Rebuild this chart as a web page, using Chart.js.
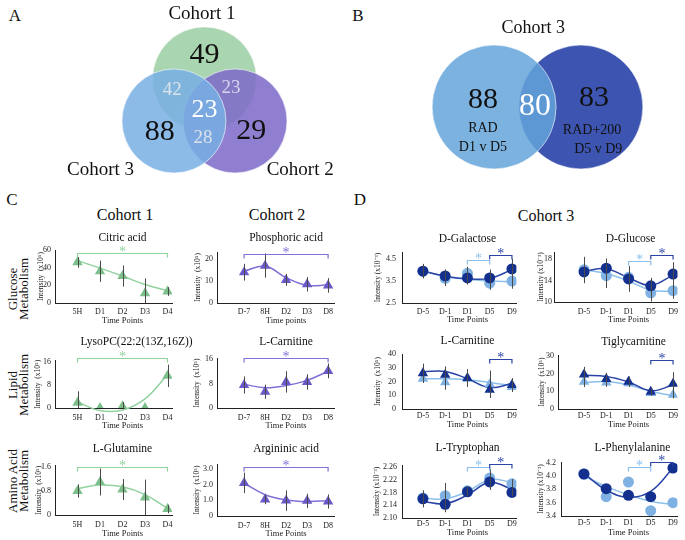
<!DOCTYPE html>
<html>
<head>
<meta charset="utf-8">
<script src="https://cdn.jsdelivr.net/npm/chart.js@4.4.1/dist/chart.umd.min.js"></script>
<style>
  body { margin: 0; background: #fff; }
  #fig { position: relative; width: 685px; height: 540px; overflow: hidden; font-family: 'Liberation Serif', serif; color: #111; }
  #fig canvas { position: absolute; }
  .lbl { position: absolute; white-space: nowrap; transform: translate(-50%, -50%); line-height: 1; }
  .rot { transform: translate(-50%, -50%) rotate(-90deg); text-align: center; line-height: 11px; }
</style>
</head>
<body>
<div id="fig"></div>
<script>
// ---- data ----
const c1Labels = ['5H', 'D1', 'D2', 'D3', 'D4'];
const c2Labels = ['D-7', '8H', 'D2', 'D3', 'D8'];
const c3Labels = ['D-5', 'D-1', 'D1', 'D5', 'D9'];

// Venn counts: only1, only3, only2, 1&3, 1&2, 2&3, all
const vennACounts = [49, 88, 29, 42, 23, 28, 23];
// RAD only, shared, RAD+200 only
const vennBCounts = [88, 80, 83];

const citricTicks = ['0', '20', '40', '60'];
const citricMean = [46, 36, 30.5, 11, 13];
const citricErr = [6, 12, 12, 17, 5];
const citricTrend = [48, 39.5, 30.5, 21, 14];

const phosTicks = ['0', '10', '20'];
const phosMean = [14, 17, 10.5, 8.5, 8];
const phosErr = [3.8, 5.5, 2.7, 3.3, 3.3];
const phosTrend = [14.5, 16.8, 11.5, 8.0, 8.3];

const lysoTicks = ['0', '4', '8', '12', '16'];
const lysoMean = [1.8, 0, 0.6, 0, 11.2];
const lysoErr = [4, 0, 1.5, 0, 3.9];
const lysoTrend = [2.1, -0.9, -0.7, 3.2, 11.6];

const carC2Ticks = ['0', '4', '8', '12', '16'];
const carC2Mean = [7.5, 5.3, 8.5, 8.5, 12.1];
const carC2Err = [2.8, 2.3, 3.5, 2.5, 2.4];
const carC2Trend = [7.7, 6.6, 7.3, 9.0, 12.0];

const glnTicks = ['0', '0.4', '0.8', '1.2', '1.6'];
const glnMean = [0.8, 1.1, 0.85, 0.58, 0.2];
const glnErr = [0.22, 0.45, 0.35, 0.6, 0.14];
const glnTrend = [0.88, 1.0, 0.94, 0.68, 0.22];

const argTicks = ['0', '1.0', '2.0', '3.0'];
const argMean = [2.1, 1.05, 0.98, 0.96, 0.92];
const argErr = [0.65, 0.3, 0.65, 0.45, 0.45];
const argTrend = [2.08, 1.35, 1.02, 0.92, 0.97];

const galTicks = ['2.5', '3.5', '4.5'];
const galDark = [3.95, 3.73, 3.64, 3.64, 4.05];
const galDarkErr = [0.33, 0.3, 0.3, 0.38, 0.45];
const galLight = [3.95, 3.62, 3.85, 3.4, 3.5];
const galLightErr = [0.3, 0.35, 0.3, 0.3, 0.35];
const galDarkTrend = [3.95, 3.72, 3.6, 3.62, 4.02];
const galLightTrend = [3.95, 3.7, 3.58, 3.5, 3.47];

const gluTicks = ['10', '14', '18'];
const gluDark = [15.6, 16.3, 14.3, 13.0, 15.2];
const gluDarkErr = [2.1, 1.8, 2.4, 1.5, 2.2];
const gluLight = [16.0, 14.9, 14.6, 11.7, 12.1];
const gluLightErr = [2.4, 2.3, 1.6, 1.6, 1.5];
const gluDarkTrend = [15.7, 16.2, 14.5, 13.1, 15.0];
const gluLightTrend = [16.0, 15.3, 13.9, 12.2, 12.0];

const carTicks = ['0', '10', '20', '30', '40'];
const carDark = [26, 25, 22.5, 14, 17.5];
const carDarkErr = [7, 6, 6.5, 6, 5];
const carLight = [22, 19.5, 22, 18, 16];
const carLightErr = [3, 5.5, 4, 10, 3.5];
const carDarkTrend = [27, 27.3, 22, 15.5, 18.5];
const carLightTrend = [22, 22, 21.3, 19.3, 17];

const tigTicks = ['0', '10', '20', '30'];
const tigDark = [19.5, 17, 15.4, 9.7, 14.3];
const tigDarkErr = [4.3, 3.4, 3, 2, 6.5];
const tigLight = [15.4, 15, 14.5, 9, 8];
const tigLightErr = [3, 2.5, 2, 1.5, 2];
const tigDarkTrend = [19, 18.4, 15.3, 10.3, 13.5];
const tigLightTrend = [15, 15.5, 13.5, 10, 7.5];

const trpTicks = ['2.10', '2.14', '2.18', '2.22', '2.26'];
const trpDark = [2.16, 2.143, 2.182, 2.213, 2.18];
const trpDarkErr = [0.027, 0.025, 0.015, 0.025, 0.012];
const trpLight = [2.163, 2.17, 2.185, 2.225, 2.207];
const trpLightErr = [0.015, 0.04, 0.015, 0.028, 0.015];
const trpDarkTrend = [2.152, 2.145, 2.172, 2.212, 2.19];
const trpLightTrend = [2.163, 2.16, 2.183, 2.22, 2.212];

const pheTicks = ['3.4', '3.6', '3.8', '4.0', '4.2'];
const pheDark = [4.03, 3.81, 3.71, 3.69, 4.12];
const pheLight = [4.03, 3.69, 3.91, 3.48, 3.6];
const pheDarkTrend = [4.04, 3.79, 3.68, 3.77, 4.12];
const pheLightTrend = [4.0, 3.84, 3.72, 3.62, 3.57];

// ---- styles ----
const serif = "'Liberation Serif', 'Times New Roman', serif";
Chart.defaults.font.family = serif;
Chart.defaults.color = '#222';

const green = { marker: '#7cbf8b', line: '#92d29e', style: 'triangle' };
const purple = { marker: '#6b59c9', line: '#7f70d8', style: 'triangle' };
const navy = { marker: '#14308f', line: '#2a44a6' };
const sky = { marker: '#7fb2e2', line: '#8cc0ea' };

const fig = document.getElementById('fig');

function addCanvas(x, y, w, h) {
  const c = document.createElement('canvas');
  c.width = w; c.height = h;
  c.style.left = x + 'px'; c.style.top = y + 'px';
  c.style.width = w + 'px'; c.style.height = h + 'px';
  fig.appendChild(c);
  return c;
}

function addText(t, x, y, size, rot) {
  const d = document.createElement('div');
  d.className = rot ? 'lbl rot' : 'lbl';
  d.innerHTML = t;
  d.style.left = x + 'px'; d.style.top = y + 'px';
  d.style.fontSize = size + 'px';
  fig.appendChild(d);
}

[
  ['A', 15, 15, 17], ['B', 358, 15, 17], ['C', 12, 199, 17], ['D', 360, 199, 17],
  ['Cohort 1', 125, 215, 16], ['Cohort 2', 277, 215, 16], ['Cohort 3', 546, 216, 16]
].forEach(h => addText(h[0], h[1], h[2], h[3], false));
addText('Glucose<br>Metabolism', 18, 289, 13, true);
addText('Lipid<br>Metabolism', 18, 385, 13, true);
addText('Amino Acid<br>Metabolism', 18, 481, 13, true);

// ---- venn diagrams ----
function vennChart(v) {
  const cv = addCanvas(v.left, v.top, v.w, v.h);
  new Chart(cv, {
    type: 'scatter',
    data: {
      datasets: [{
        data: v.circles.map(c => ({ x: c.x, y: c.y })),
        pointBackgroundColor: v.circles.map(c => c.fill),
        pointBorderColor: 'rgba(255,255,255,0.6)',
        pointBorderWidth: 1,
        pointRadius: ctx => {
          const s = ctx.chart.scales.x;
          return s.getPixelForValue(1) - s.getPixelForValue(0);
        }
      }]
    },
    options: {
      responsive: false, animation: false, events: [],
      layout: { padding: 0 },
      plugins: { legend: { display: false }, tooltip: { enabled: false } },
      scales: {
        x: { display: false, min: -v.cx / v.unit, max: (v.w - v.cx) / v.unit },
        y: { display: false, min: -(v.h - v.cy) / v.unit, max: v.cy / v.unit }
      }
    },
    plugins: [{
      id: 'vennText',
      afterDatasetsDraw(chart) {
        const { ctx, scales: { x, y } } = chart;
        ctx.save();
        ctx.textAlign = 'center'; ctx.textBaseline = 'middle';
        v.texts.forEach(s => {
          ctx.fillStyle = s.color || '#111';
          ctx.font = `${s.size}px ${serif}`;
          ctx.fillText(s.t, x.getPixelForValue(s.x), y.getPixelForValue(s.y));
        });
        ctx.restore();
      }
    }]
  });
}

vennChart({
  left: 0, top: 0, w: 340, h: 190, cx: 204.5, cy: 121, unit: 52,
  circles: [
    { x: 0, y: 0.81, fill: '#a9d5b0' },
    { x: 0.587, y: 0, fill: 'rgba(124,104,200,0.85)' },
    { x: -0.587, y: 0, fill: 'rgba(120,175,228,0.85)' }
  ],
  texts: [
    { t: 'Cohort 1', x: -0.05, y: 2.06, size: 19 },
    { t: 'Cohort 3', x: -2.0, y: -0.94, size: 19 },
    { t: 'Cohort 2', x: 1.84, y: -0.94, size: 19 },
    { t: String(vennACounts[0]), x: 0, y: 1.27, size: 30 },
    { t: String(vennACounts[1]), x: -0.86, y: -0.21, size: 30 },
    { t: String(vennACounts[2]), x: 0.9, y: -0.19, size: 30 },
    { t: String(vennACounts[3]), x: -0.62, y: 0.6, size: 19, color: '#dbe2ea' },
    { t: String(vennACounts[4]), x: 0.51, y: 0.63, size: 19, color: '#d8d4ee' },
    { t: String(vennACounts[5]), x: -0.03, y: -0.33, size: 19, color: '#dbe2ea' },
    { t: String(vennACounts[6]), x: 0, y: 0.21, size: 26, color: '#ffffff' }
  ]
});

vennChart({
  left: 340, top: 0, w: 345, h: 190, cx: 197.5, cy: 107, unit: 62,
  circles: [
    { x: 0.7, y: 0, fill: '#3d55b0' },
    { x: -0.7, y: 0, fill: 'rgba(100,165,218,0.85)' }
  ],
  texts: [
    { t: 'Cohort 3', x: -0.07, y: 1.27, size: 18 },
    { t: String(vennBCounts[0]), x: -0.88, y: 0.11, size: 30 },
    { t: 'RAD', x: -0.88, y: -0.34, size: 14 },
    { t: 'D1 v D5', x: -0.88, y: -0.65, size: 14 },
    { t: String(vennBCounts[1]), x: -0.04, y: 0, size: 32, color: '#ffffff' },
    { t: String(vennBCounts[2]), x: 0.91, y: 0.15, size: 30 },
    { t: 'RAD+200', x: 0.88, y: -0.37, size: 14 },
    { t: 'D5 v D9', x: 0.98, y: -0.69, size: 14 }
  ]
});

// ---- line panels ----
function lineChart(p) {
  const [l, t, r, b] = p.rect;
  const yW = 25, xH = 14;
  // whole-pixel canvas so nothing is resampled; padding absorbs the fractions
  const cl = Math.floor(l - 45), ct = Math.floor(t - 34);
  const cw = Math.ceil(r + 40 - cl), ch = Math.ceil(b + 34 - ct);
  const pad = { left: l - cl - yW, top: t - ct, right: cw - (r - cl), bottom: ch - (b - ct) - xH };
  const cv = addCanvas(cl, ct, cw, ch);
  const datasets = [];
  p.series.forEach(s => datasets.push({
    data: s.mean.map((v, i) => ({ x: i + 1, y: v })),
    showLine: false,
    pointStyle: s.style || 'circle',
    pointRadius: s.style === 'triangle' ? 6 : 5.5,
    pointBackgroundColor: s.marker, pointBorderColor: s.marker, pointBorderWidth: 0,
    order: 0
  }));
  p.series.forEach(s => datasets.push({
    data: s.trend.map((v, i) => ({ x: i + 1, y: v })),
    showLine: true, pointRadius: 0, borderColor: s.line, borderWidth: 1.5,
    tension: 0.4, clip: false, order: 1
  }));

  new Chart(cv, {
    type: 'scatter',
    data: { datasets },
    options: {
      responsive: false, animation: false, events: [],
      layout: { padding: pad },
      plugins: { legend: { display: false }, tooltip: { enabled: false } },
      scales: {
        x: {
          type: 'linear', min: p.xMin, max: p.xMax,
          grid: { display: false, drawTicks: false },
          border: { color: '#222', width: 1 },
          ticks: { font: { size: 8 }, color: '#222', padding: p.xPad ?? 3, maxRotation: 0, autoSkip: false,
                   callback: (v, i) => p.labels[i] },
          afterBuildTicks: s => { s.ticks = p.labels.map((_, i) => ({ value: i + 1 })); },
          afterFit: s => { s.height = xH; }
        },
        y: {
          min: p.yMin, max: p.yMax,
          grid: { display: false, drawTicks: false },
          border: { color: '#222', width: 1 },
          ticks: { font: { size: 8 }, color: '#222', padding: p.yPad ?? 4,
                   callback: (v, i) => p.yTicks[i] },
          afterBuildTicks: s => { s.ticks = p.yTicks.map(v => ({ value: +v })); },
          afterFit: s => { s.width = yW; }
        }
      }
    },
    plugins: [{
      id: 'deco',
      afterDatasetsDraw(chart) {
        const { ctx, chartArea: a, scales: { x, y } } = chart;
        ctx.save();
        // error bars
        ctx.lineWidth = 1; ctx.strokeStyle = '#4a4a4a';
        p.series.forEach(s => {
          if (!s.err) return;
          s.mean.forEach((m, i) => {
            if (!s.err[i]) return;
            const px = Math.round(x.getPixelForValue(i + 1)) + 0.5;
            const y1 = Math.min(y.getPixelForValue(m - s.err[i]), a.bottom);
            const y2 = y.getPixelForValue(m + s.err[i]);
            ctx.beginPath(); ctx.moveTo(px, y1); ctx.lineTo(px, y2); ctx.stroke();
          });
        });
        // significance brackets
        ctx.textAlign = 'center'; ctx.textBaseline = 'middle';
        (p.brackets || []).forEach(k => {
          const x1 = x.getPixelForValue(k.from), x2 = x.getPixelForValue(k.to);
          const yy = Math.round(y.getPixelForValue(k.y)) + 0.5;
          ctx.strokeStyle = k.color; ctx.lineWidth = 1.2;
          ctx.beginPath();
          ctx.moveTo(x1, yy + 4); ctx.lineTo(x1, yy); ctx.lineTo(x2, yy); ctx.lineTo(x2, yy + 4);
          ctx.stroke();
          ctx.fillStyle = k.color; ctx.font = `14px ${serif}`;
          ctx.fillText('*', (x1 + x2) / 2, yy - 1);
        });
        // titles
        ctx.fillStyle = '#111';
        ctx.font = `11.5px ${serif}`;
        ctx.fillText(p.title, x.getPixelForValue(3) + (p.titleDx || 0), a.top + p.titleY - t);
        ctx.font = `8.5px ${serif}`;
        ctx.fillStyle = '#222';
        ctx.fillText(p.xTitle || 'Time Points', x.getPixelForValue(3), a.bottom + p.xTitleDy);
        ctx.translate(a.left + p.yTitleDx, (a.top + a.bottom) / 2);
        ctx.rotate(-Math.PI / 2);
        ctx.font = `7.5px ${serif}`;
        ctx.fillText(p.yTitle, 0, 0);
        ctx.restore();
      }
    }]
  });
}

const yC = 'Intensity  (x10\u2075)';
const yD = 'Intensity (x10\u207B\u00B3)';

const panels = [
  // Cohort 1
  { rect: [55, 250, 172, 303], xMin: 0, xMax: 5.2, yMin: 0, yMax: 60, yTicks: citricTicks, labels: c1Labels,
    title: 'Citric acid', titleY: 238, yTitle: yC, yTitleDx: -14, xTitleDy: 18, xPad: 4,
    series: [{ mean: citricMean, err: citricErr, trend: citricTrend, ...green }],
    brackets: [{ from: 1, to: 5, y: 56.6, color: green.line }] },
  { rect: [55, 360.6, 172, 408], xMin: 0, xMax: 5.2, yMin: 0, yMax: 16.5, yTicks: lysoTicks, labels: c1Labels,
    title: 'LysoPC(22:2(13Z,16Z))', titleY: 342, titleDx: 14, yTitle: yC, yTitleDx: -17, xTitleDy: 18, xPad: 5,
    series: [{ mean: lysoMean, err: lysoErr, trend: lysoTrend, ...green }],
    brackets: [{ from: 1, to: 5, y: 17.3, color: green.line }] },
  { rect: [55, 465.5, 172, 515], xMin: 0, xMax: 5.2, yMin: 0, yMax: 1.65, yTicks: glnTicks, labels: c1Labels,
    title: 'L-Glutamine', titleY: 449, yTitle: yC, yTitleDx: -16, xTitleDy: 19, xPad: 5,
    series: [{ mean: glnMean, err: glnErr, trend: glnTrend, ...green }],
    brackets: [{ from: 1, to: 5, y: 1.61, color: green.line }] },
  // Cohort 2
  { rect: [217, 252, 334.4, 303], xMin: -0.29, xMax: 5.3, yMin: 0, yMax: 23.2, yTicks: phosTicks, labels: c2Labels,
    title: 'Phosphoric acid', titleY: 238, yTitle: yC, yTitleDx: -19, xTitle: 'Time points', xTitleDy: 18, xPad: 4,
    series: [{ mean: phosMean, err: phosErr, trend: phosTrend, ...purple }],
    brackets: [{ from: 1, to: 5, y: 22.3, color: purple.line }] },
  { rect: [217, 358, 334.4, 408], xMin: -0.29, xMax: 5.3, yMin: 0, yMax: 16.3, yTicks: carC2Ticks, labels: c2Labels,
    title: 'L-Carnitine', titleY: 342, yTitle: yC, yTitleDx: -20, xTitleDy: 18, xPad: 5,
    series: [{ mean: carC2Mean, err: carC2Err, trend: carC2Trend, ...purple }],
    brackets: [{ from: 1, to: 5, y: 16.4, color: purple.line }] },
  { rect: [217, 464, 334.4, 516], xMin: -0.29, xMax: 5.3, yMin: 0, yMax: 3.3, yTicks: argTicks, labels: c2Labels,
    title: 'Argininic acid', titleY: 449, yTitle: yC, yTitleDx: -20, xTitleDy: 18, xPad: 5,
    series: [{ mean: argMean, err: argErr, trend: argTrend, ...purple }],
    brackets: [{ from: 1, to: 5, y: 3.11, color: purple.line }] },
  // Cohort 3
  { rect: [402, 252, 516.4, 303], xMin: 0.06, xMax: 5.2, yMin: 2.5, yMax: 4.82, yTicks: galTicks, labels: c3Labels,
    title: 'D-Galactose', titleY: 239, yTitle: yD, yTitleDx: -24, xTitleDy: 17, xPad: 4, yPad: 6,
    series: [{ mean: galDark, err: galDarkErr, trend: galDarkTrend, ...navy },
             { mean: galLight, err: galLightErr, trend: galLightTrend, ...sky }],
    brackets: [{ from: 3, to: 4, y: 4.45, color: sky.line }, { from: 4, to: 5, y: 4.68, color: navy.line }] },
  { rect: [402, 354, 516.4, 409], xMin: 0.06, xMax: 5.2, yMin: 0, yMax: 40, yTicks: carTicks, labels: c3Labels,
    title: 'L-Carnitine', titleY: 341, yTitle: yC, yTitleDx: -24, xTitleDy: 16, xPad: 2, yPad: 6,
    series: [{ mean: carDark, err: carDarkErr, trend: carDarkTrend, ...navy, style: 'triangle' },
             { mean: carLight, err: carLightErr, trend: carLightTrend, ...sky, style: 'triangle' }],
    brackets: [{ from: 4, to: 5, y: 36.4, color: navy.line }] },
  { rect: [402, 465, 516.4, 518], xMin: 0.06, xMax: 5.2, yMin: 2.10, yMax: 2.266, yTicks: trpTicks, labels: c3Labels,
    title: 'L-Tryptophan', titleY: 448, yTitle: yD, yTitleDx: -25, xTitleDy: 15, xPad: 1, yPad: 5,
    series: [{ mean: trpDark, err: trpDarkErr, trend: trpDarkTrend, ...navy },
             { mean: trpLight, err: trpLightErr, trend: trpLightTrend, ...sky }],
    brackets: [{ from: 3, to: 4, y: 2.261, color: sky.line }, { from: 4, to: 5, y: 2.269, color: navy.line }] },
  { rect: [554, 252, 677.5, 302], xMin: -0.35, xMax: 5.2, yMin: 10, yMax: 19.3, yTicks: gluTicks, labels: c3Labels,
    title: 'D-Glucose', titleY: 239, titleDx: 2, yTitle: yD, yTitleDx: -13, xTitleDy: 18, xPad: 5, yPad: 2,
    series: [{ mean: gluDark, err: gluDarkErr, trend: gluDarkTrend, ...navy },
             { mean: gluLight, err: gluLightErr, trend: gluLightTrend, ...sky }],
    brackets: [{ from: 3, to: 4, y: 17.63, color: sky.line }, { from: 4, to: 5, y: 18.74, color: navy.line }] },
  { rect: [558, 355, 677.5, 409], xMin: -0.17, xMax: 5.2, yMin: 0, yMax: 30.5, yTicks: tigTicks, labels: c3Labels,
    title: 'Tiglycarnitine', titleY: 342, titleDx: 5, yTitle: yC, yTitleDx: -16, xTitleDy: 16, xPad: 2, yPad: 4,
    series: [{ mean: tigDark, err: tigDarkErr, trend: tigDarkTrend, ...navy, style: 'triangle' },
             { mean: tigLight, err: tigLightErr, trend: tigLightTrend, ...sky, style: 'triangle' }],
    brackets: [{ from: 4, to: 5, y: 27.7, color: navy.line }] },
  { rect: [561, 462, 677.4, 516], xMin: -0.03, xMax: 5.2, yMin: 3.4, yMax: 4.21, yTicks: pheTicks, labels: c3Labels,
    title: 'L-Phenylalanine', titleY: 448, titleDx: 4, yTitle: yD, yTitleDx: -20, xTitleDy: 17, xPad: 2, yPad: 5,
    series: [{ mean: pheDark, trend: pheDarkTrend, ...navy },
             { mean: pheLight, trend: pheLightTrend, ...sky }],
    brackets: [{ from: 3, to: 4, y: 4.135, color: sky.line }, { from: 4, to: 5, y: 4.21, color: navy.line }] }
];

panels.forEach(lineChart);
</script>
</body>
</html>
